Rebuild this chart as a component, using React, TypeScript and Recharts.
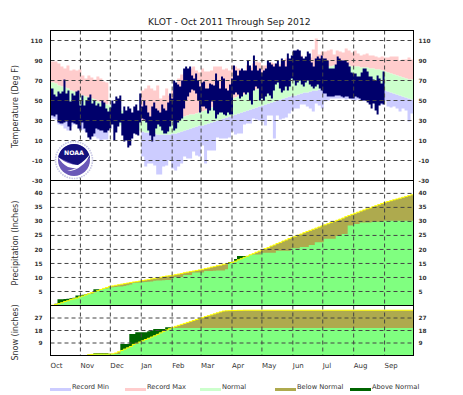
import React from 'react';
import { Area, CartesianGrid, ComposedChart, Line, XAxis, YAxis } from 'recharts';

const MONTHS = ['Oct', 'Nov', 'Dec', 'Jan', 'Feb', 'Mar', 'Apr', 'May', 'Jun', 'Jul', 'Aug', 'Sep'];
const MONTH_DAYS = [1, 31, 61, 92, 123, 152, 183, 213, 244, 274, 305, 336];
const TEMP_TICKS = [-30, -10, 10, 30, 50, 70, 90, 110];
const PRECIP_TICKS = [5, 10, 15, 20, 25, 30, 35, 40];
const SNOW_TICKS = [9, 18, 27];

// records and normals, read every 3 days (no records drawn in December)
const RECORD_MAX = [
  89, 89, 87, 84, 82, 85, 80, 81, 80, 81,
  75, 72, 75, 73, 71, 74, 72, 69, 68, 69,
  null, null, null, null, null, null, null, null, null, null,
  60, 62, 65, 62, 60, 65, 52, 55, 62, 55, 60,
  65, 72, 76, 78, 80, 82, 84, 80, 78, 82,
  79, 79, 80, 84, 84, 84, 81, 82, 80, 85,
  84, 82, 81, 80, 85, 83, 87, 89, 88, 85,
  85, 86, 88, 87, 85, 86, 90, 92, 88, 92,
  92, 100, 95, 90, 88, 93, 101, 112, 96, 99,
  99, 100, 101, 96, 100, 99, 98, 102, 100, 98, 100,
  97, 95, 96, 97, 95, 95, 94, 93, 94, 93,
  93, 94, 94, 94, 90, 91, 91, 93, 91, 90,
];
const RECORD_MIN = [
  32, 31, 26, 25, 22, 20, 24, 26, 27, 22,
  21, 19, 14, 15, 14, 12, 10, 11, 11, 12,
  null, null, null, null, null, null, null, null, null, null,
  -6, -16, -13, -13, -15, -24, -24, -16, -15, -10, -18,
  -20, -16, -13, -6, -8, -8, -1, -5, -6, 5,
  -13, 0, 0, 0, 13, 12, 12, 12, 13, 19,
  16, 17, 17, 26, 27, 27, 32, 31, 30, 29,
  25, 35, 35, 12, 35, 31, 32, 33, 37, 40,
  42, 42, 46, 46, 44, 42, 39, 47, 45, 42,
  49, 50, 52, 52, 52, 52, 52, 51, 52, 51, 50,
  51, 50, 50, 50, 50, 48, 47, 47, 46, 50,
  44, 43, 44, 42, 39, 42, 40, 29, 37, 35,
];
const NORMAL_HIGH = [
  68, 67, 65, 64, 63, 62, 60, 59, 58, 56,
  55, 54, 53, 52, 51, 49, 48, 47, 46, 45,
  44, 43, 41, 40, 38, 37, 36, 35, 33, 31,
  30, 30, 29, 29, 29, 29, 29, 30, 30, 31,
  32, 33, 33, 34, 34, 35, 36, 36, 37, 38,
  39, 40, 42, 43, 44, 45, 47, 48, 49, 50,
  52, 53, 54, 55, 56, 58, 59, 60, 61, 63,
  64, 65, 66, 67, 68, 69, 70, 71, 72, 73,
  74, 75, 75, 76, 77, 78, 79, 80, 81, 82,
  83, 83, 84, 84, 85, 85, 85, 85, 85, 85,
  84, 84, 84, 83, 83, 83, 82, 82, 81, 81,
  80, 79, 78, 77, 76, 75, 74, 73, 72, 71,
  71, 70,
];
const NORMAL_LOW = [
  47, 47, 46, 45, 44, 43, 42, 41, 40, 39,
  38, 37, 36, 35, 34, 33, 32, 31, 30, 29,
  28, 27, 26, 25, 24, 23, 22, 21, 20, 20,
  19, 18, 18, 17, 17, 16, 16, 16, 16, 16,
  17, 17, 18, 19, 20, 21, 22, 23, 24, 25,
  25, 26, 27, 28, 29, 30, 31, 32, 33, 34,
  35, 36, 37, 38, 39, 40, 41, 42, 43, 44,
  45, 46, 47, 48, 49, 50, 51, 52, 53, 54,
  55, 55, 56, 57, 58, 58, 59, 60, 60, 61,
  62, 62, 63, 63, 63, 64, 64, 64, 64, 64,
  64, 64, 64, 63, 63, 63, 62, 62, 62, 61,
  61, 60, 59, 58, 57, 56, 55, 54, 53, 52,
  51, 50,
];

// observed highs and lows, read every 2 days, Oct to end of Aug
const OBS_HIGH = [
  62, 56, 54, 59, 57, 59, 71, 57, 60, 49, 57, 55, 59, 60, 45,
  55, 45, 50, 53, 56, 47, 50, 45, 47, 44, 50, 48, 42, 39, 43,
  50, 47, 54, 52, 55, 37, 44, 40, 44, 42, 38, 44, 46, 40, 57,
  44, 50, 45, 38, 34, 44, 48, 42, 40, 38, 46, 42, 40, 48, 57, 52,
  70, 68, 66, 64, 70, 82, 84, 82, 84, 75, 72, 77, 70, 64, 68,
  69, 62, 62, 67, 66, 65, 77, 70, 62, 74, 72, 62, 60, 66, 72,
  85, 80, 75, 80, 82, 80, 80, 90, 85, 80, 95, 85, 80, 82, 78,
  80, 82, 90, 88, 86, 84, 87, 90, 84, 92, 90, 84, 97, 92, 95, 100,
  100, 101, 100, 94, 92, 94, 99, 97, 88, 84, 92, 94, 92, 95, 92,
  92, 90, 82, 82, 82, 86, 94, 92, 90, 90, 90, 88, 84, 78, 77,
  77, 74, 74, 78, 82, 82, 79, 74, 74, 71, 70, 75, 72, 67, 79, 72,
];
const OBS_LOW = [
  35, 34, 36, 28, 27, 27, 28, 29, 24, 20, 28, 27, 26, 22, 20,
  28, 22, 18, 13, 11, 14, 17, 22, 21, 20, 20, 18, 18, 20, 22,
  26, 10, 18, 24, 28, 15, 9, 10, 3, 5, 12, 17, 16, 15, 28,
  32, 31, 28, 20, 15, 9, 14, 22, 26, 24, 20, 17, 17, 19, 24, 30,
  20, 22, 28, 30, 32, 42, 50, 54, 58, 61, 60, 57, 50, 38, 44,
  44, 42, 37, 40, 49, 40, 32, 36, 38, 38, 36, 35, 38, 36, 36,
  56, 58, 56, 52, 54, 58, 56, 58, 50, 46, 60, 64, 62, 50, 52,
  50, 54, 57, 55, 52, 60, 66, 68, 62, 58, 60, 64, 60, 64, 72, 70,
  65, 68, 70, 66, 64, 68, 70, 66, 64, 62, 64, 66, 62, 60, 57,
  57, 54, 54, 54, 54, 55, 55, 55, 54, 53, 54, 54, 52, 52, 52,
  54, 53, 52, 50, 50, 50, 48, 46, 42, 47, 40, 36, 45, 47, 46, 46,
];

// cumulative precipitation in inches, every 3 days
const PRECIP_NORMAL = [
  0.1, 0.4, 0.7, 1.0, 1.4, 1.7, 2.1, 2.4, 2.7, 3.1,
  3.4, 3.8, 4.2, 4.6, 4.9, 5.3, 5.7, 6.1, 6.4, 6.8,
  7.0, 7.2, 7.4, 7.6, 7.8, 8.0, 8.2, 8.4, 8.5, 8.7,
  8.9, 9.1, 9.3, 9.5, 9.7, 9.9, 10.1, 10.3, 10.5, 10.6,
  10.8, 11.0, 11.2, 11.4, 11.7, 11.9, 12.1, 12.3, 12.5, 12.7,
  12.9, 13.2, 13.4, 13.7, 13.9, 14.2, 14.4, 14.7, 14.9, 15.2,
  15.4, 15.8, 16.3, 16.7, 17.2, 17.6, 18.1, 18.5, 19.0, 19.4,
  19.9, 20.3, 20.7, 21.2, 21.6, 22.1, 22.5, 23.0, 23.4, 23.9,
  24.3, 24.7, 25.1, 25.5, 26.0, 26.4, 26.8, 27.2, 27.6, 28.0,
  28.4, 28.8, 29.2, 29.6, 30.0, 30.4, 30.8, 31.2, 31.7, 32.1,
  32.5, 32.9, 33.3, 33.7, 34.1, 34.5, 34.8, 35.2, 35.6, 36.0,
  36.4, 36.8, 37.1, 37.4, 37.7, 38.0, 38.3, 38.6, 38.9, 39.2,
  39.5, 39.8,
];
const PRECIP_OBS = [
  0.1, 0.6, 2.2, 2.2, 2.3, 2.4, 2.6, 2.8, 3.6, 3.6,
  3.8, 4.0, 4.2, 4.2, 5.8, 5.8, 5.8, 5.9, 6.1, 6.4,
  6.5, 6.6, 6.8, 6.8, 7.0, 7.2, 7.5, 8.0, 8.1, 8.2,
  8.3, 8.4, 8.5, 8.6, 8.8, 8.9, 8.9, 9.0, 9.1, 9.1,
  9.7, 10.2, 10.2, 10.2, 10.9, 10.9, 10.9, 11.8, 11.8, 11.8,
  11.8, 12.3, 12.3, 12.3, 12.4, 12.5, 12.5, 12.5, 12.9, 15.5,
  15.6, 16.6, 17.7, 17.7, 17.7, 17.7, 18.0, 18.2, 18.2, 18.2,
  18.8, 18.8, 18.8, 18.8, 18.8, 19.5, 19.5, 19.5, 19.5, 19.5,
  20.4, 20.4, 20.4, 20.9, 20.9, 20.9, 21.6, 21.6, 22.6, 22.6,
  22.6, 23.8, 23.8, 23.8, 23.8, 24.8, 24.8, 25.5, 25.5, 28.5,
  28.5, 29.1, 29.1, 29.6, 29.6, 29.6, 29.6, 29.9, 29.9, 29.9,
  29.9, 30.2, 30.2, 30.2, 30.2, 30.2, 30.2, 30.2, 30.2, 30.2,
  30.2, 30.2,
];

// cumulative snow in inches, every 3 days up to mid April, then flat to the last day
const SNOW_NORMAL = [
  0, 0, 0, 0, 0, 0, 0, 0, 0, 0, 0, 0,
  0.5, 0.8, 1, 1, 1, 1, 1, 1,
  1.2, 1.8, 2.7, 3.6, 4.6, 5.5, 6.5, 8.0, 8.8, 9.7,
  10.6, 11.5, 12.4, 13.3, 14.2, 15.2, 16.3, 17.4, 18.4, 19.3,
  20.2, 21.0, 21.7, 22.4, 23.1, 23.8, 24.5, 25.2, 25.9, 26.6,
  27.3, 28.0, 28.7, 29.3, 30.0, 30.7, 31.4, 32.0, 32.2, 32.3,
  32.4, 32.4, 32.5, 32.5, 32.6, 32.6, 32.6, 32.6,
];
const SNOW_OBS = [
  0, 0, 0, 0, 0, 0, 0, 0, 0, 0, 0, 0,
  0.5, 0.8, 1.6, 1.6, 1.6, 1.6, 1.6, 1.2,
  1.1, 1, 1, 8.3, 8.3, 8.3, 15.5, 15.5, 16.7, 16.7,
  16.7, 16.7, 17.5, 18, 19, 19, 19, 19, 20.3, 20.3,
  19.8, 19.8, 19.8, 19.8, 19.8, 19.8, 19.8, 19.8, 19.8, 19.8,
  19.8, 19.8, 19.8, 19.8, 19.8, 19.8, 19.8, 19.8, 19.8, 19.8,
  19.8, 19.8, 19.8, 19.8, 19.8, 19.8, 19.8, 19.8,
];

const LEGEND = [
  { name: 'Record Min', color: '#ccccff', left: 50 },
  { name: 'Record Max', color: '#ffcccc', left: 125 },
  { name: 'Normal', color: '#ccffcc', left: 200 },
  { name: 'Below Normal', color: '#aeaa4e', left: 275 },
  { name: 'Above Normal', color: '#006400', left: 350 },
];

const dayAt = (i: number, step: number) => (i === 0 ? 1 : 2 + step * i);

const tempRows = RECORD_MAX.map((max, i) => ({
  day: dayAt(i, 3),
  blue: max == null ? null : [RECORD_MIN[i], NORMAL_LOW[i]],
  pink: max == null ? null : [NORMAL_HIGH[i], max],
  normal: [NORMAL_LOW[i], NORMAL_HIGH[i]],
}));
const obsRows = OBS_HIGH.map((high, i) => ({ day: dayAt(i, 2), range: [OBS_LOW[i], high] }));
const precipRows = PRECIP_NORMAL.map((normal, i) => ({
  day: dayAt(i, 3),
  normal,
  obs: PRECIP_OBS[i],
  low: Math.min(normal, PRECIP_OBS[i]),
}));
const snowRows = SNOW_NORMAL.map((normal, i) => ({
  day: i === SNOW_NORMAL.length - 1 ? 365 : dayAt(i, 3),
  normal,
  obs: SNOW_OBS[i],
  low: Math.min(normal, SNOW_OBS[i]),
}));

const FONT = '"DejaVu Sans", sans-serif';
const GRID = '#444444';
const tickStyle = { fontSize: 5.8, fontWeight: 700, fontFamily: FONT, fill: '#333333' };
const titleStyle = { fontSize: 8, fontFamily: FONT, fill: '#333333', textAnchor: 'middle' };

const NoTick = () => <g />;

const MonthTick = ({ x, y, index }: any) => (
  <text x={x} y={y + 4} fontSize={7} fontFamily={FONT} fill="#333333">
    {MONTHS[index]}
  </text>
);

const Logo = () => (
  <svg width={40} height={40} viewBox="0 0 40 40" style={{ position: 'absolute', left: 54, top: 140 }}>
    <circle cx={20} cy={20} r={18.5} fill="#ffffff" stroke="#c6c6e4" strokeWidth={1.6} strokeDasharray="1.5 1" />
    <circle cx={20} cy={20} r={16} fill="#6a58b8" />
    <path d="M4.2 17.5 A16 16 0 0 1 35.8 17.5 Q29 22 24 26 Q14 22 4.2 17.5 Z" fill="#14107e" />
    <path d="M4 17 Q8 24 14 27 Q18 28.5 23 28 Q17 30 13 31 Q22 31 27 26 Q33 22 36 14 Q31 21 24 25 Q14 25 4 17 Z" fill="#ffffff" />
    <text x={20} y={14.5} textAnchor="middle" fontSize={6.2} fontWeight={700} fontFamily={FONT} fill="#ffffff">
      NOAA
    </text>
  </svg>
);

const App = () => (
  <div style={{ position: 'absolute', left: 0, top: 0, width: 463, height: 395, background: '#ffffff' }}>
    <div style={{ position: 'absolute', left: 148, top: 16, fontSize: 9.2, fontFamily: FONT, color: '#222222', whiteSpace: 'nowrap' }}>
      KLOT - Oct 2011 Through Sep 2012
    </div>

    <div style={{ position: 'absolute', left: 0, top: 0 }}>
      <ComposedChart width={463} height={190} margin={{ top: 30.5, right: 9.5, bottom: 9.5, left: 10.5 }}>
        <XAxis dataKey="day" type="number" domain={[1, 365]} ticks={MONTH_DAYS} interval={0} allowDataOverflow height={0} tick={<NoTick />} tickLine={false} axisLine={false} />
        <YAxis
          yAxisId="left"
          domain={[-30, 120]}
          ticks={TEMP_TICKS}
          interval={0}
          allowDataOverflow
          width={40}
          tickLine={false}
          tick={tickStyle}
          axisLine={false}
          label={{ value: 'Temperature (Deg F)', angle: -90, position: 'insideLeft', offset: 5, dy: 1, style: titleStyle }}
        />
        <YAxis yAxisId="right" orientation="right" domain={[-30, 120]} ticks={TEMP_TICKS} interval={0} allowDataOverflow width={40} tickSize={3} tickLine={false} tick={tickStyle} axisLine={false} />
        <Area yAxisId="left" data={tempRows} dataKey="blue" type="stepAfter" fill="#ccccff" fillOpacity={1} stroke="none" isAnimationActive={false} />
        <Area yAxisId="left" data={tempRows} dataKey="pink" type="stepAfter" fill="#ffcccc" fillOpacity={1} stroke="none" isAnimationActive={false} />
        <Area yAxisId="left" data={tempRows} dataKey="normal" type="stepAfter" fill="#ccffcc" fillOpacity={1} stroke="none" isAnimationActive={false} />
        <Area yAxisId="left" data={obsRows} dataKey="range" type="stepAfter" fill="#00006b" fillOpacity={1} stroke="none" isAnimationActive={false} />
        <CartesianGrid yAxisId="left" stroke={GRID} strokeDasharray="4 3" zIndex={2000} />
      </ComposedChart>
    </div>
    <Logo />

    <div style={{ position: 'absolute', left: 0, top: 170 }}>
      <ComposedChart width={463} height={145} data={precipRows} margin={{ top: 10.5, right: 9.5, bottom: 9.5, left: 10.5 }}>
        <XAxis dataKey="day" type="number" domain={[1, 365]} ticks={MONTH_DAYS} interval={0} allowDataOverflow height={0} tick={<NoTick />} tickLine={false} axisLine={false} />
        <YAxis
          yAxisId="left"
          domain={[0, 44.6]}
          ticks={PRECIP_TICKS}
          interval={0}
          allowDataOverflow
          width={40}
          tickLine={false}
          tick={tickStyle}
          axisLine={false}
          label={{ value: 'Precipitation (Inches)', angle: -90, position: 'insideLeft', offset: 5, style: titleStyle }}
        />
        <YAxis yAxisId="right" orientation="right" domain={[0, 44.6]} ticks={PRECIP_TICKS} interval={0} allowDataOverflow width={40} tickSize={3} tickLine={false} tick={tickStyle} axisLine={false} />
        <Area yAxisId="left" dataKey="obs" type="stepAfter" fill="#006400" fillOpacity={1} stroke="none" isAnimationActive={false} />
        <Area yAxisId="left" dataKey="normal" type="stepAfter" fill="#aeaa4e" fillOpacity={1} stroke="none" isAnimationActive={false} />
        <Area yAxisId="left" dataKey="low" type="stepAfter" fill="#80ff80" fillOpacity={1} stroke="none" isAnimationActive={false} />
        <Line yAxisId="left" dataKey="normal" type="stepAfter" stroke="#ffff00" strokeWidth={1} dot={false} isAnimationActive={false} />
        <CartesianGrid yAxisId="left" stroke={GRID} strokeDasharray="4 3" zIndex={2000} />
      </ComposedChart>
    </div>

    <div style={{ position: 'absolute', left: 0, top: 295 }}>
      <ComposedChart width={463} height={85} data={snowRows} margin={{ top: 10.5, right: 9.5, bottom: 0, left: 10.5 }}>
        <XAxis dataKey="day" type="number" domain={[1, 365]} ticks={MONTH_DAYS} interval={0} allowDataOverflow height={24.5} tick={<MonthTick />} tickLine={false} axisLine={false} />
        <YAxis
          yAxisId="left"
          domain={[0, 36]}
          ticks={SNOW_TICKS}
          interval={0}
          allowDataOverflow
          width={40}
          tickLine={false}
          tick={tickStyle}
          axisLine={false}
          label={{ value: 'Snow (inches)', angle: -90, position: 'insideLeft', offset: 5, dy: 2, style: titleStyle }}
        />
        <YAxis yAxisId="right" orientation="right" domain={[0, 36]} ticks={SNOW_TICKS} interval={0} allowDataOverflow width={40} tickSize={3} tickLine={false} tick={tickStyle} axisLine={false} />
        <Area yAxisId="left" dataKey="obs" type="stepAfter" fill="#006400" fillOpacity={1} stroke="none" isAnimationActive={false} />
        <Area yAxisId="left" dataKey="normal" type="stepAfter" fill="#aeaa4e" fillOpacity={1} stroke="none" isAnimationActive={false} />
        <Area yAxisId="left" dataKey="low" type="stepAfter" fill="#80ff80" fillOpacity={1} stroke="none" isAnimationActive={false} />
        <Line yAxisId="left" dataKey="normal" type="stepAfter" stroke="#ffff00" strokeWidth={1} dot={false} isAnimationActive={false} />
        <CartesianGrid yAxisId="left" stroke={GRID} strokeDasharray="4 3" zIndex={2000} />
      </ComposedChart>
    </div>

    {/* plot frame and panel dividers */}
    <div style={{ position: 'absolute', left: 50, top: 30, width: 364, height: 326, boxSizing: 'border-box', border: '1px solid #000000' }} />
    <div style={{ position: 'absolute', left: 50, top: 180, width: 364, height: 1, background: '#000000' }} />
    <div style={{ position: 'absolute', left: 50, top: 305, width: 364, height: 1, background: '#000000' }} />

    {LEGEND.map((item) => (
      <div key={item.name}>
        <div style={{ position: 'absolute', left: item.left, top: 388, width: 21, height: 3, background: item.color }} />
        <div style={{ position: 'absolute', left: item.left + 22, top: 383, fontSize: 6.7, lineHeight: '9px', fontFamily: FONT, color: '#333333', whiteSpace: 'nowrap' }}>
          {item.name}
        </div>
      </div>
    ))}
  </div>
);

export default App;
